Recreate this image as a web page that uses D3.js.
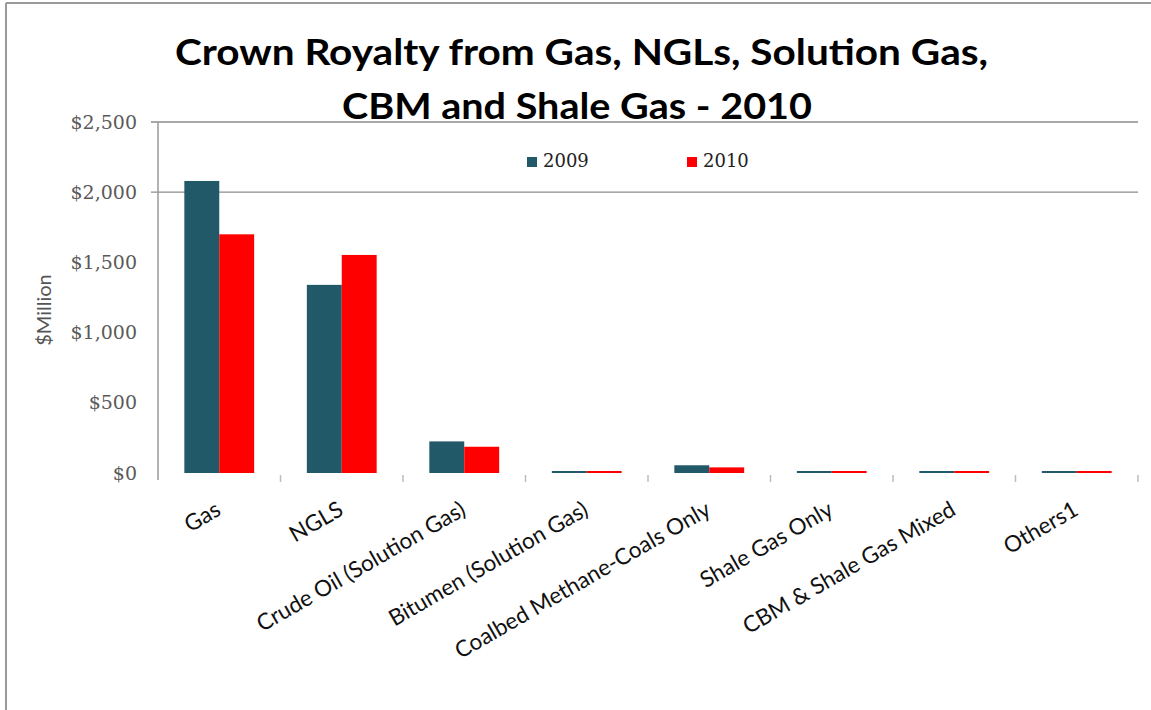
<!DOCTYPE html>
<html>
<head>
<meta charset="utf-8">
<script src="https://cdn.jsdelivr.net/npm/d3@7"></script>
<style>
  body { margin: 0; background: #fff; }
  svg { display: block; }
</style>
</head>
<body>
<div class="chart"></div>
<script>
// data ($ million)
var categories = ["Gas", "NGLS", "Crude Oil (Solution Gas)", "Bitumen (Solution Gas)",
                  "Coalbed Methane-Coals Only", "Shale Gas Only", "CBM & Shale Gas Mixed", "Others1"];
var seriesNames = ["2009", "2010"];
var values2009 = [2080, 1340, 225, 9, 55, 7, 6, 8];
var values2010 = [1700, 1553, 187, 8, 40, 6, 6, 7];
var yTicks = [0, 500, 1000, 1500, 2000, 2500];
var gridValues = [2000, 2500];
var colors = ["#215968", "#ff0000"];

var w = 1151, h = 710;
var plot = {left: 158, right: 1138, top: 122, bottom: 473};

var svg = d3.select("div.chart")
    .append("svg")
    .attr("width", w)
    .attr("height", h)
    .attr("viewBox", `0 0 ${w} ${h}`);

//frame lines (only top and left visible in the picture)
svg.append("line").attr("x1", 6).attr("x2", w).attr("y1", 3).attr("y2", 3)
    .attr("stroke", "#9a9a9a").attr("stroke-width", 2);
svg.append("line").attr("x1", 6).attr("x2", 6).attr("y1", 3).attr("y2", h)
    .attr("stroke", "#9a9a9a").attr("stroke-width", 2);

//title
var title = svg.append("g")
    .attr("font-family", "Lato, 'Open Sans', sans-serif")
    .attr("font-weight", "bold")
    .attr("font-size", 36)
    .attr("fill", "#000");
title.append("text").attr("x", 175).attr("y", 65)
    .attr("textLength", 813).attr("lengthAdjust", "spacingAndGlyphs")
    .text("Crown Royalty from Gas, NGLs, Solution Gas,");
title.append("text").attr("x", 342).attr("y", 119)
    .attr("textLength", 470).attr("lengthAdjust", "spacingAndGlyphs")
    .text("CBM and Shale Gas - 2010");

//scales
var x0 = d3.scaleBand()
    .domain(categories)
    .range([plot.left, plot.right])
    .paddingInner(0.43)
    .paddingOuter(0.215);

var x1 = d3.scaleBand()
    .domain(seriesNames)
    .range([0, x0.bandwidth()]);

var y = d3.scaleLinear()
    .domain([0, 2500])
    .range([plot.bottom, plot.top]);

//gridlines
svg.append("g").selectAll("line")
    .data(gridValues)
    .join("line")
    .attr("x1", plot.left - 7)
    .attr("x2", plot.right)
    .attr("y1", d => y(d))
    .attr("y2", d => y(d))
    .attr("stroke", "#8c8c8c")
    .attr("stroke-width", 1.3);

//y axis
var yAxis = svg.append("g")
    .attr("transform", `translate(${plot.left},0)`)
    .call(d3.axisLeft(y).tickValues(yTicks).tickSize(0).tickPadding(21)
        .tickFormat(d => "$" + d3.format(",")(d)));
yAxis.select(".domain").remove();
yAxis.selectAll("text")
    .attr("font-family", "'DejaVu Serif', serif")
    .attr("font-size", 19)
    .attr("fill", "#5a5a5a");
svg.append("line")
    .attr("x1", plot.left).attr("x2", plot.left)
    .attr("y1", plot.top).attr("y2", plot.bottom + 7)
    .attr("stroke", "#9a9a9a").attr("stroke-width", 1.5);

//axis title
svg.append("text")
    .attr("transform", "translate(51,310) rotate(-90)")
    .attr("text-anchor", "middle")
    .attr("font-family", "Lato, sans-serif")
    .attr("font-size", 20)
    .attr("fill", "#555")
    .text("$Million");

//x axis ticks at category boundaries
var boundaries = categories.map((c, i) => plot.left + i * x0.step()).concat([plot.right]);
svg.append("g").selectAll("line")
    .data(boundaries.slice(1))
    .join("line")
    .attr("x1", d => d).attr("x2", d => d)
    .attr("y1", plot.bottom + 2).attr("y2", plot.bottom + 9)
    .attr("stroke", "#bdbdbd").attr("stroke-width", 1.5);

//bars
var rows = categories.map((c, i) => ({cat: c, vals: [values2009[i], values2010[i]]}));
var groups = svg.append("g").selectAll("g")
    .data(rows)
    .join("g")
    .attr("transform", d => `translate(${x0(d.cat)},0)`);

groups.selectAll("rect")
    .data(d => d.vals.map((v, k) => ({name: seriesNames[k], v: v, k: k})))
    .join("rect")
    .attr("x", d => x1(d.name))
    .attr("width", x1.bandwidth())
    .attr("y", d => Math.min(y(d.v), plot.bottom - 2))
    .attr("height", d => Math.max(plot.bottom - y(d.v), 2))
    .attr("fill", d => colors[d.k]);

//category labels
svg.append("g").selectAll("text")
    .data(categories)
    .join("text")
    .attr("transform", d => `translate(${x0(d) + x0.bandwidth() / 2 + 3},514) rotate(-30)`)
    .attr("text-anchor", "end")
    .attr("font-family", "Lato, sans-serif")
    .attr("font-size", 22.5)
    .attr("fill", "#111")
    .text(d => d);

//legend
var legend = svg.append("g").selectAll("g")
    .data(seriesNames)
    .join("g")
    .attr("transform", (d, i) => `translate(${527 + i * 160},157)`);
legend.append("rect")
    .attr("width", 10).attr("height", 10)
    .attr("fill", (d, i) => colors[i]);
legend.append("text")
    .attr("x", 16).attr("y", 10)
    .attr("font-family", "'DejaVu Serif', serif")
    .attr("font-size", 18)
    .attr("fill", "#222")
    .text(d => d);
</script>
</body>
</html>
